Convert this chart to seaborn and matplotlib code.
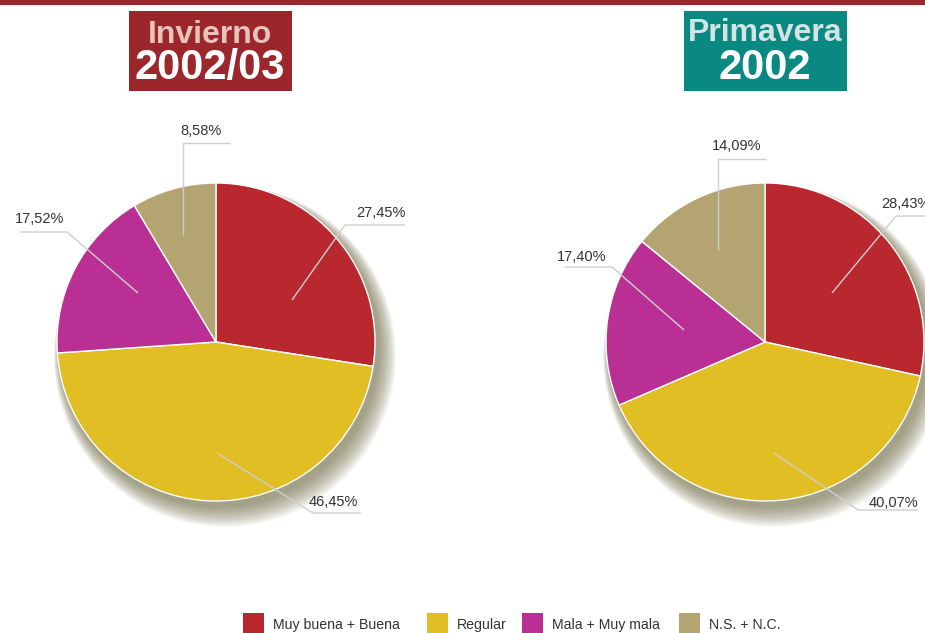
import matplotlib
matplotlib.use("Agg")
import matplotlib.pyplot as plt
import seaborn as sns
from matplotlib.patches import Rectangle, Circle

sns.set_theme(style="white")
plt.rcParams['font.family'] = ['Liberation Sans', 'DejaVu Sans']

categories = ["Muy buena + Buena", "Regular", "Mala + Muy mala", "N.S. + N.C."]
invierno = [27.45, 46.45, 17.52, 8.58]
primavera = [28.43, 40.07, 17.40, 14.09]
inv_labels = ["27,45%", "46,45%", "17,52%", "8,58%"]
pri_labels = ["28,43%", "40,07%", "17,40%", "14,09%"]
colors = sns.color_palette(["#b9272f", "#e0be24", "#b92f94", "#b3a471"])

W, H = 925, 633
fig = plt.figure(figsize=(W / 100, H / 100), dpi=100)
ax = fig.add_axes([0, 0, 1, 1])


def Y(py):
    return H - py


def draw_pie(cx, cy, r, values):
    # soft shadow toward lower right
    n = 20
    for i in range(n, 0, -1):
        ax.add_patch(Circle((cx + 3 + i * 0.3, Y(cy) - 5 - i * 0.45), r + i * 0.6,
                            color="#6f6a42", alpha=0.045, lw=0, zorder=1))
    ax.pie(values, colors=colors, startangle=90, counterclock=False,
           center=(cx, Y(cy)), radius=r, frame=True,
           wedgeprops=dict(edgecolor="white", linewidth=1.0, zorder=3))


def leader(points, text, tx, ty, ha="center"):
    xs = [p[0] for p in points]
    ys = [Y(p[1]) for p in points]
    ax.plot(xs, ys, color="#cfcfcf", lw=1.0, zorder=5, solid_capstyle="butt")
    ax.text(tx, Y(ty), text, ha=ha, va="center", fontsize=10.5, color="#333333", zorder=6)


draw_pie(216, 342, 159, invierno)
draw_pie(765, 342, 159, primavera)

# left labels
leader([(292, 300), (345, 225), (405, 225)], inv_labels[0], 381, 213)
leader([(217, 453), (313, 513), (361, 513)], inv_labels[1], 333, 502)
leader([(138, 293), (67, 232), (20, 232)], inv_labels[2], 40, 219)
leader([(183, 235), (183, 143), (230, 143)], inv_labels[3], 201, 131)

# right labels
leader([(832, 293), (896, 216), (930, 216)], pri_labels[0], 906, 204)
leader([(774, 453), (858, 510), (918, 510)], pri_labels[1], 893, 503)
leader([(684, 330), (612, 267), (565, 267)], pri_labels[2], 582, 257)
leader([(718, 250), (718, 159), (766, 159)], pri_labels[3], 737, 146)

# top bar
ax.add_patch(Rectangle((0, Y(5)), W, 5, color="#9b262c", lw=0, zorder=8))

# title boxes
ax.add_patch(Rectangle((129, Y(91)), 163, 80, color="#9b262c", lw=0, zorder=8))
ax.text(210, Y(35), "Invierno", ha="center", va="center", fontsize=23, fontweight="bold",
        color="#e7c3ba", zorder=9)
ax.text(210, Y(68), "2002/03", ha="center", va="center", fontsize=30, fontweight="bold",
        color="white", zorder=9)

ax.add_patch(Rectangle((684, Y(91)), 163, 80, color="#098982", lw=0, zorder=8))
ax.text(765, Y(33), "Primavera", ha="center", va="center", fontsize=23, fontweight="bold",
        color="#d4e3e3", zorder=9)
ax.text(765, Y(68), "2002", ha="center", va="center", fontsize=30, fontweight="bold",
        color="white", zorder=9)

# legend
leg_x = [243, 427, 522, 679]
for lx, c, name in zip(leg_x, colors, categories):
    ax.add_patch(Rectangle((lx, Y(634)), 21, 21, color=c, lw=0, zorder=8))
    ax.text(lx + 30, Y(625), name, ha="left", va="center", fontsize=10.2, color="#333333", zorder=9)

ax.set_xlim(0, W)
ax.set_ylim(0, H)
ax.set_aspect("equal")
ax.axis("off")
fig.savefig("out.png", dpi=100)
